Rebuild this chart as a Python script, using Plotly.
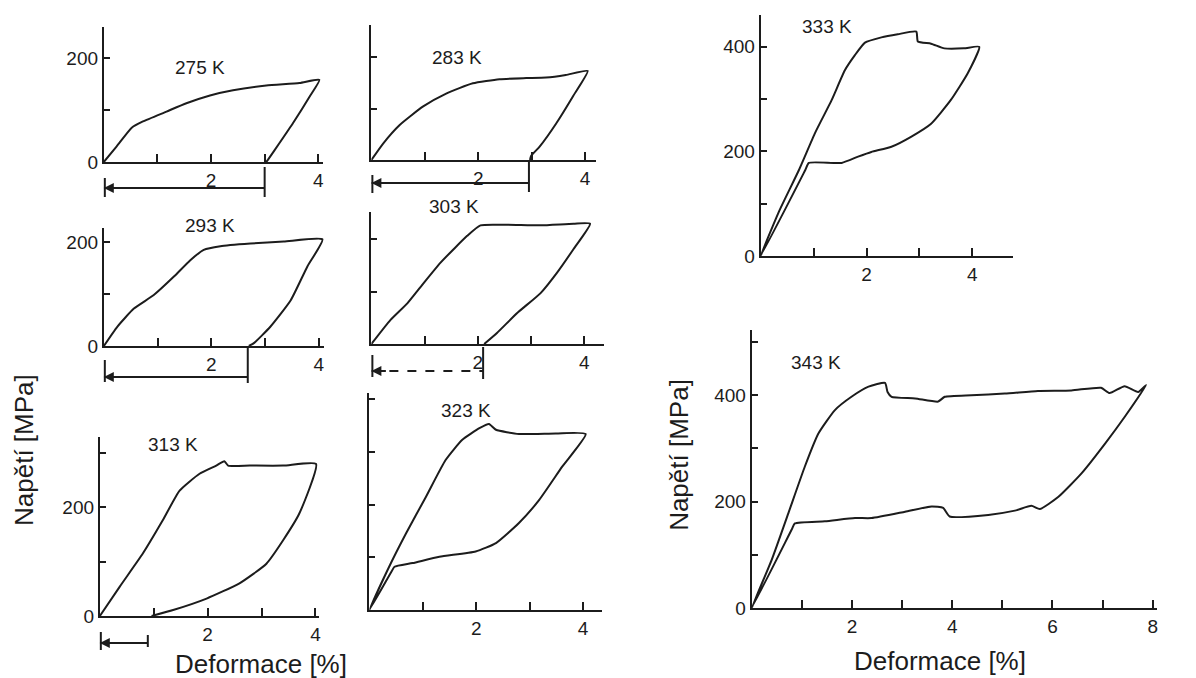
import plotly.graph_objects as go

W, H = 1196, 678          # picture size the positions below are measured in
FIG_H = 689               # page height that the photograph squeezes into 678 px

# ---------------- data ----------------
temps = ["275 K", "283 K", "293 K", "303 K", "313 K", "323 K", "333 K", "343 K"]

strain_275 = [0, 0.24, 0.52, 0.73, 1.17, 1.54, 1.98, 2.41, 3.03, 3.65, 4.02, 3.84, 3.53, 3.28, 3.06, 3.03]
stress_275 = [0, 30, 66, 78, 97, 113, 128, 138, 147, 152, 158, 126, 75, 37, 4, 0]

strain_283 = [0, 0.22, 0.53, 0.97, 1.4, 1.9, 2.4, 2.9, 3.27, 3.64, 4.05, 3.77, 3.46, 3.15, 2.99, 2.97]
stress_283 = [0, 32, 68, 104, 129, 149, 157, 159, 160, 165, 173, 123, 71, 26, 8, 0]

strain_293 = [0, 0.25, 0.56, 0.93, 1.3, 1.61, 1.86, 2.17, 2.73, 3.35, 4.07, 3.79, 3.48, 3.1, 2.8, 2.7]
stress_293 = [0, 37, 72, 98, 133, 165, 185, 192, 197, 201, 205, 153, 88, 37, 6, 0]

strain_303 = [0, 0.36, 0.68, 0.99, 1.3, 1.55, 1.8, 2.05, 2.55, 3.18, 3.8, 4.11, 3.8, 3.49, 3.18, 2.74, 2.36, 2.12]
stress_303 = [0, 46, 78, 117, 155, 181, 206, 226, 227, 226, 229, 229, 181, 136, 97, 59, 21, 0]

strain_313 = [0, 0.37, 0.8, 1.17, 1.48, 1.85, 2.16, 2.31, 2.38, 2.78, 3.4, 4.01, 3.7, 3.4, 3.09, 2.59, 1.98, 1.36, 0.96]
stress_313 = [0, 54, 115, 176, 230, 261, 276, 284, 276, 276, 276, 279, 188, 139, 96, 60, 32, 11, 0]

strain_323 = [0, 0.37, 0.69, 1.06, 1.43, 1.74, 2.06, 2.24, 2.37, 2.8, 3.49, 4.05,
              3.61, 3.18, 2.8, 2.37, 1.99, 1.31, 0.81, 0.47, 0.42, 0]
stress_323 = [0, 82, 146, 215, 285, 323, 345, 353, 342, 334, 335, 334,
              272, 209, 165, 127, 111, 101, 89, 82, 74, 0]

strain_333 = [0, 0.34, 0.72, 1.03, 1.34, 1.59, 1.78, 1.97, 2.28, 2.59, 2.94, 2.97, 3.22, 3.47, 3.84, 4.13,
              3.91, 3.59, 3.22, 2.84, 2.47, 2.09, 1.84, 1.53, 0.91, 0.84, 0]
stress_333 = [0, 84, 164, 236, 298, 355, 384, 408, 418, 424, 429, 410, 406, 397, 397, 400,
              349, 298, 253, 228, 209, 199, 190, 178, 178, 164, 0]

strain_343 = [0, 0.4, 0.73, 1.06, 1.33, 1.66, 1.99, 2.33, 2.66, 2.71, 2.79, 3.26, 3.72, 3.85, 4.38, 5.05,
              5.71, 6.38, 6.97, 7.14, 7.44, 7.71, 7.87,
              7.44, 7.05, 6.58, 6.12, 5.75, 5.58, 5.25, 4.72, 3.95, 3.82, 3.59, 3.06, 2.39, 2.06, 1.46, 0.86,
              0.8, 0]
stress_343 = [0, 91, 178, 266, 328, 372, 397, 416, 423, 406, 397, 394, 388, 397, 400, 403,
              408, 409, 414, 404, 417, 406, 419,
              359, 309, 253, 209, 186, 192, 183, 175, 172, 188, 191, 181, 169, 169, 163, 159,
              148, 0]

strains = [strain_275, strain_283, strain_293, strain_303, strain_313, strain_323, strain_333, strain_343]
stresses = [stress_275, stress_283, stress_293, stress_303, stress_313, stress_323, stress_333, stress_343]

residual_temps = ["275 K", "283 K", "293 K", "303 K", "313 K"]
residual_strain = [3.0, 2.95, 2.68, 2.1, 0.89]

x_tick_vals_4 = [1, 2, 3, 4]
x_tick_text_4 = ["", "2", "", "4"]
x_tick_vals_8 = [1, 2, 3, 4, 5, 6, 7, 8]
x_tick_text_8 = ["", "2", "", "4", "", "6", "", "8"]

panels = [
    dict(x0=104, y0=162, sx=53.7, sy=0.52, xmax=4.08, ymax=260,
         yt=[0, 100, 200], ytt=["0", "", "200"], xt=x_tick_vals_4, xtt=x_tick_text_4, lab=(200, 67)),
    dict(x0=372, y0=160, sx=53.5, sy=0.515, xmax=4.2, ymax=262,
         yt=[100, 200], ytt=["", ""], xt=x_tick_vals_4, xtt=x_tick_text_4, lab=(458, 57)),
    dict(x0=104, y0=346, sx=53.8, sy=0.52, xmax=4.1, ymax=226,
         yt=[0, 100, 200], ytt=["0", "", "200"], xt=x_tick_vals_4, xtt=x_tick_text_4, lab=(210, 226)),
    dict(x0=372, y0=344, sx=53.3, sy=0.525, xmax=4.37, ymax=252,
         yt=[100, 200], ytt=["", ""], xt=x_tick_vals_4, xtt=x_tick_text_4, lab=(455, 207)),
    dict(x0=100, y0=616, sx=54, sy=0.545, xmax=4.07, ymax=328,
         yt=[0, 100, 200, 300], ytt=["0", "", "200", ""], xt=x_tick_vals_4, xtt=x_tick_text_4, lab=(173, 444)),
    dict(x0=370, y0=610, sx=53.5, sy=0.527, xmax=4.35, ymax=412,
         yt=[100, 200, 300, 400], ytt=["", "", "", ""], xt=x_tick_vals_4, xtt=x_tick_text_4, lab=(467, 410)),
    dict(x0=762, y0=256, sx=53, sy=0.523, xmax=4.77, ymax=460,
         yt=[0, 100, 200, 300, 400], ytt=["0", "", "200", "", "400"], xt=x_tick_vals_4, xtt=x_tick_text_4, lab=(828, 27)),
    dict(x0=753, y0=608, sx=50.2, sy=0.532, xmax=8.08, ymax=522,
         yt=[0, 100, 200, 300, 400, 500], ytt=["0", "", "200", "", "400", ""], xt=x_tick_vals_8, xtt=x_tick_text_8, lab=(817, 362)),
]
arrow_geo = [
    dict(ly=188, lb=(178, 197), rb=(167, 197), dash="solid"),
    dict(ly=183, lb=(175, 193), rb=(160, 192), dash="solid"),
    dict(ly=377, lb=(360, 382), rb=(346, 383), dash="solid"),
    dict(ly=371, lb=(355, 377), rb=(347, 379), dash="dash"),
    dict(ly=643, lb=(632, 650), rb=(635, 647), dash="solid"),
]

INK = "#1c1c1c"
FONT = "Liberation Sans, Arial, sans-serif"
TICK_SIZE = 19
LABEL_SIZE = 19
TITLE_SIZE = 26


def fx(p):
    return p / W


def fy(p):
    return 1 - p / H


fig = go.Figure()
layout = dict(width=W, height=FIG_H, autosize=False, margin=dict(l=0, r=0, t=0, b=0),
              paper_bgcolor="white", plot_bgcolor="white", showlegend=False,
              font=dict(family=FONT, color=INK))
annotations = []
shapes = []

for i, (t, xs, ys, g) in enumerate(zip(temps, strains, stresses, panels)):
    n = i + 1
    xa = "xaxis" if n == 1 else f"xaxis{n}"
    ya = "yaxis" if n == 1 else f"yaxis{n}"
    xr = "x" if n == 1 else f"x{n}"
    yr = "y" if n == 1 else f"y{n}"
    fig.add_trace(go.Scatter(x=xs, y=ys, mode="lines", xaxis=xr, yaxis=yr,
                             line=dict(color=INK, width=2, shape="spline", smoothing=0.5),
                             hoverinfo="skip"))
    xd = [fx(g["x0"]), fx(g["x0"] + g["xmax"] * g["sx"])]
    yd = [fy(g["y0"]), fy(g["y0"] - g["ymax"] * g["sy"])]
    layout[xa] = dict(domain=xd, range=[0, g["xmax"]], anchor=yr, showgrid=False, zeroline=False,
                      showline=True, linecolor=INK, linewidth=2, ticks="inside", ticklen=8,
                      tickwidth=2, tickcolor=INK, tickvals=g["xt"], ticktext=g["xtt"],
                      tickfont=dict(size=TICK_SIZE, color=INK, family=FONT), fixedrange=True)
    layout[ya] = dict(domain=yd, range=[0, g["ymax"]], anchor=xr, showgrid=False, zeroline=False,
                      showline=True, linecolor=INK, linewidth=2, ticks="inside", ticklen=6,
                      tickwidth=2, tickcolor=INK, tickvals=g["yt"], ticktext=g["ytt"],
                      tickfont=dict(size=TICK_SIZE, color=INK, family=FONT), fixedrange=True)
    annotations.append(dict(text=t, x=fx(g["lab"][0]), y=fy(g["lab"][1]), xref="paper", yref="paper",
                            showarrow=False, font=dict(size=LABEL_SIZE, color=INK, family=FONT),
                            xanchor="center", yanchor="middle"))

for t, res in zip(residual_temps, residual_strain):
    n = temps.index(t) + 1
    xr = "x" if n == 1 else f"x{n}"
    a = arrow_geo[n - 1]
    shapes.append(dict(type="line", xref=xr, yref="paper", x0=0, x1=res,
                       y0=fy(a["ly"]), y1=fy(a["ly"]), line=dict(color=INK, width=2, dash=a["dash"])))
    shapes.append(dict(type="line", xref=xr, yref="paper", x0=0, x1=0,
                       y0=fy(a["lb"][0]), y1=fy(a["lb"][1]), line=dict(color=INK, width=4)))
    shapes.append(dict(type="line", xref=xr, yref="paper", x0=res, x1=res,
                       y0=fy(a["rb"][0]), y1=fy(a["rb"][1]), line=dict(color=INK, width=2)))
    annotations.append(dict(text="", x=0, y=fy(a["ly"]), xref=xr, yref="paper",
                            showarrow=True, ax=16, ay=0, axref="pixel", ayref="pixel",
                            arrowhead=2, arrowsize=1, arrowwidth=2, arrowcolor=INK))

title_common = dict(xref="paper", yref="paper", showarrow=False, xanchor="center", yanchor="middle",
                    font=dict(size=TITLE_SIZE, color=INK, family=FONT))
annotations += [
    dict(text="Napětí [MPa]", x=fx(24), y=fy(450), textangle=-90, **title_common),
    dict(text="Deformace [%]", x=fx(261), y=fy(664), **title_common),
    dict(text="Napětí [MPa]", x=fx(680), y=fy(455), textangle=-90, **title_common),
    dict(text="Deformace [%]", x=fx(942), y=fy(661), **title_common),
]

layout["annotations"] = annotations
layout["shapes"] = shapes
fig.update_layout(**layout)

page_js = (
    "document.documentElement.style.overflow='hidden';"
    "document.body.style.margin='0';document.body.style.overflow='hidden';"
)
fig.write_html("out.html", config={"displayModeBar": False}, post_script=page_js)
